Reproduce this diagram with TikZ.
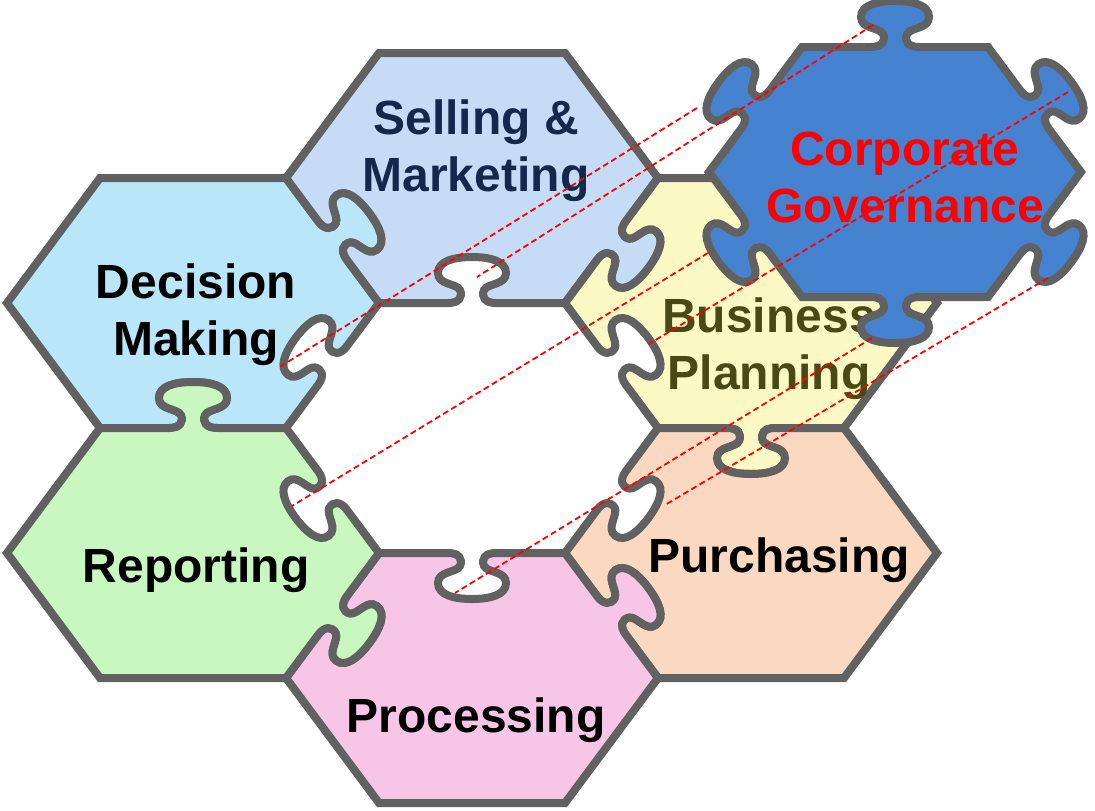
\documentclass[tikz,border=0pt]{standalone}
\usepackage{fontspec}
\setmainfont{Liberation Sans}
\usetikzlibrary{calc}

\definecolor{rim}{HTML}{616161}
\definecolor{decisionbg}{HTML}{B9E6F8}
\definecolor{sellingbg}{HTML}{C6DCF6}
\definecolor{planningbg}{HTML}{FDF9C4}
\definecolor{purchasebg}{HTML}{FBD8C0}
\definecolor{processbg}{HTML}{F7C5E6}
\definecolor{reportbg}{HTML}{C8F7BF}
\definecolor{governbg}{HTML}{4583D0}
\definecolor{navytext}{HTML}{14284B}
\definecolor{olivetext}{HTML}{4A4915}

% knob on the edge #1--#2 (pieces run counter-clockwise),
% #3 = 1: knob sticks out, #3 = -1: knob is cut in
\newcommand{\knob}[3]{%
  -- ($(#1)!.5!(#2)!-24pt!(#2)$)
  .. controls ($(#1)!.5!(#2)!-13pt!(#2)$)
          and ($(#1)!.5!(#2)!-9pt!(#2)!#3*6pt!-90:(#2)$)
  .. ($(#1)!.5!(#2)!-12pt!(#2)!#3*13pt!-90:(#2)$)
  .. controls ($(#1)!.5!(#2)!-16pt!(#2)!#3*20pt!-90:(#2)$)
          and ($(#1)!.5!(#2)!-34pt!(#2)!#3*18pt!-90:(#2)$)
  .. ($(#1)!.5!(#2)!-34pt!(#2)!#3*30pt!-90:(#2)$)
  .. controls ($(#1)!.5!(#2)!-34pt!(#2)!#3*42pt!-90:(#2)$)
          and ($(#1)!.5!(#2)!-18pt!(#2)!#3*46pt!-90:(#2)$)
  .. ($(#1)!.5!(#2)!0pt!(#2)!#3*46pt!-90:(#2)$)
  .. controls ($(#1)!.5!(#2)!18pt!(#2)!#3*46pt!-90:(#2)$)
          and ($(#1)!.5!(#2)!34pt!(#2)!#3*42pt!-90:(#2)$)
  .. ($(#1)!.5!(#2)!34pt!(#2)!#3*30pt!-90:(#2)$)
  .. controls ($(#1)!.5!(#2)!34pt!(#2)!#3*18pt!-90:(#2)$)
          and ($(#1)!.5!(#2)!16pt!(#2)!#3*20pt!-90:(#2)$)
  .. ($(#1)!.5!(#2)!12pt!(#2)!#3*13pt!-90:(#2)$)
  .. controls ($(#1)!.5!(#2)!9pt!(#2)!#3*6pt!-90:(#2)$)
          and ($(#1)!.5!(#2)!13pt!(#2)$)
  .. ($(#1)!.5!(#2)!24pt!(#2)$)}

\tikzset{
  piece/.style={draw=rim, line width=8pt},
  piecetext/.style={font=\bfseries\fontsize{48}{57}\selectfont, align=center},
  link/.style={red, line width=1.8pt, dash pattern=on 6pt off 3.5pt}
}

\begin{document}
\begin{tikzpicture}[x=1pt, y=-1pt]
\fill[white] (0,0) rectangle (1095,811);
\useasboundingbox (0,0) rectangle (1095,811);

% corners of every hexagon
\foreach \p/\x/\y in {dm/193/303, sm/472/178, bp/751/303, pu/751/553,
                      pr/472/678, re/193/553, cg/895/172}{
  \coordinate (\p-e)  at (\x+186,\y);
  \coordinate (\p-ne) at (\x+93,\y-125);
  \coordinate (\p-nw) at (\x-93,\y-125);
  \coordinate (\p-w)  at (\x-186,\y);
  \coordinate (\p-sw) at (\x-93,\y+125);
  \coordinate (\p-se) at (\x+93,\y+125);
}

% the ring
\draw[piece, fill=decisionbg] (dm-e) \knob{dm-e}{dm-ne}{1} -- (dm-ne) -- (dm-nw)
  -- (dm-w) -- (dm-sw) \knob{dm-sw}{dm-se}{-1} -- (dm-se) \knob{dm-se}{dm-e}{-1} -- cycle;
\node[piecetext] (dm-text) at (196,315) {Decision\\Making};

\draw[piece, fill=sellingbg] (sm-e) -- (sm-ne) -- (sm-nw) -- (sm-w)
  \knob{sm-w}{sm-sw}{-1} -- (sm-sw) \knob{sm-sw}{sm-se}{-1} -- (sm-se) \knob{sm-se}{sm-e}{1} -- cycle;
\node[piecetext, text=navytext] (sm-text) at (476,151) {Selling \&\\Marketing};

\draw[piece, fill=planningbg] (bp-e) -- (bp-ne) -- (bp-nw) \knob{bp-nw}{bp-w}{-1}
  -- (bp-w) \knob{bp-w}{bp-sw}{-1} -- (bp-sw) \knob{bp-sw}{bp-se}{1} -- (bp-se) -- cycle;
\node[piecetext, text=olivetext] (bp-text) at (769,349) {Business\\Planning};

\draw[piece, fill=purchasebg] (pu-e) -- (pu-ne) \knob{pu-ne}{pu-nw}{-1} -- (pu-nw)
  \knob{pu-nw}{pu-w}{-1} -- (pu-w) \knob{pu-w}{pu-sw}{-1} -- (pu-sw) -- (pu-se) -- cycle;
\node[piecetext] (pu-text) at (779,560) {Purchasing};

\draw[piece, fill=processbg] (pr-e) \knob{pr-e}{pr-ne}{1} -- (pr-ne) \knob{pr-ne}{pr-nw}{-1}
  -- (pr-nw) \knob{pr-nw}{pr-w}{-1} -- (pr-w) -- (pr-sw) -- (pr-se) -- cycle;
\node[piecetext] (pr-text) at (476,720) {Processing};

\draw[piece, fill=reportbg] (re-e) \knob{re-e}{re-ne}{-1} -- (re-ne) \knob{re-ne}{re-nw}{1}
  -- (re-nw) -- (re-w) -- (re-sw) -- (re-se) \knob{re-se}{re-e}{1} -- cycle;
\node[piecetext] (re-text) at (196,570) {Reporting};

% the loose middle piece
\draw[piece, fill=governbg] (cg-e) \knob{cg-e}{cg-ne}{1} -- (cg-ne) \knob{cg-ne}{cg-nw}{1}
  -- (cg-nw) \knob{cg-nw}{cg-w}{1} -- (cg-w) \knob{cg-w}{cg-sw}{1} -- (cg-sw)
  \knob{cg-sw}{cg-se}{1} -- (cg-se) \knob{cg-se}{cg-e}{1} -- cycle;
\node[piecetext, text=red] (cg-text) at (905,177) {Corporate\\Governance};

% where each knob fits
\coordinate (cg-k1) at (697,108);  \coordinate (dm-slot) at (278,368);
\coordinate (cg-k2) at (873,25);   \coordinate (sm-slot) at (477,277);
\coordinate (cg-k3) at (1068,92);  \coordinate (bp-slot) at (649,344);
\coordinate (cg-k4) at (708,253);  \coordinate (re-slot) at (292,506);
\coordinate (cg-k5) at (1048,278); \coordinate (pu-slot) at (665,505);
\coordinate (cg-k6) at (872,338);  \coordinate (pr-slot) at (455,593);
\foreach \a/\b in {cg-k1/dm-slot, cg-k2/sm-slot, cg-k3/bp-slot,
                   cg-k4/re-slot, cg-k5/pu-slot, cg-k6/pr-slot}
  \draw[link] (\a) -- (\b);
\end{tikzpicture}
\end{document}
